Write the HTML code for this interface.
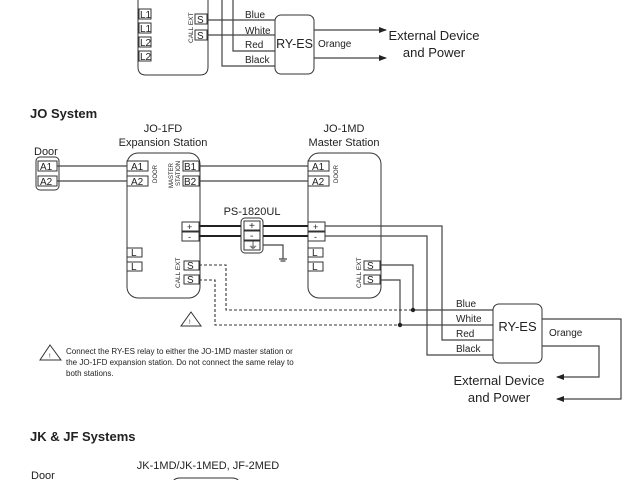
<!DOCTYPE html>
<html><head><meta charset="utf-8"><style>
body{margin:0;background:#fff}
svg{display:block}
text{font-family:"Liberation Sans",sans-serif;fill:#222}
.t{font-size:10px}
.b{fill:#fff;stroke:#333;stroke-width:1}
.w{stroke:#444;stroke-width:1.2;fill:none}
.d{stroke:#333;stroke-width:1.1;fill:none;stroke-dasharray:3,2}
</style></head><body>
<svg width="640" height="480" viewBox="0 0 640 480">
<defs><marker id="ar" markerWidth="8" markerHeight="6" refX="7" refY="3" orient="auto" markerUnits="userSpaceOnUse"><path d="M0,0 L8,3 L0,6z" fill="#222"/></marker></defs>
<!-- top section -->
<path d="M138,-2 V67 Q138,75 146,75 H200 Q208,75 208,67 V-2" class="b"/>
<g class="t">
<rect x="139" y="9" width="12" height="10" class="b"/><text x="140" y="18">L1</text>
<rect x="139" y="23" width="12" height="10" class="b"/><text x="140" y="32">L1</text>
<rect x="139" y="37" width="12" height="10" class="b"/><text x="140" y="46">L2</text>
<rect x="139" y="51" width="12" height="10" class="b"/><text x="140" y="60">L2</text>
<rect x="195" y="14" width="12" height="10" class="b"/><text x="197" y="23">S</text>
<rect x="195" y="30" width="12" height="10" class="b"/><text x="197" y="39">S</text>
</g>
<text x="0" y="0" font-size="6.5" transform="translate(193,43) rotate(-90)">CALL EXT</text>
<path d="M207,20 H275 M207,35 H275 M275,51 H233 V-2 M275,66 H222 V-2" class="w"/>
<g class="t"><text x="245" y="18">Blue</text><text x="245" y="34">White</text><text x="245" y="48">Red</text><text x="245" y="63">Black</text><text x="318" y="47">Orange</text></g>
<rect x="275" y="15" width="39" height="59" rx="6" class="b"/>
<text x="294.5" y="48" font-size="12.5" text-anchor="middle">RY-ES</text>
<path d="M314,30 H386" class="w" marker-end="url(#ar)"/>
<path d="M314,58 H386" class="w" marker-end="url(#ar)"/>
<text x="434" y="40" font-size="13" text-anchor="middle">External Device</text>
<text x="434" y="57" font-size="13" text-anchor="middle">and Power</text>

<!-- JO system -->
<text x="30" y="118" font-size="13" font-weight="bold">JO System</text>
<text x="163" y="132" font-size="11" text-anchor="middle">JO-1FD</text>
<text x="163" y="146" font-size="11" text-anchor="middle">Expansion Station</text>
<text x="344" y="132" font-size="11" text-anchor="middle">JO-1MD</text>
<text x="344" y="146" font-size="11" text-anchor="middle">Master Station</text>
<text x="34" y="155" font-size="11">Door</text>
<rect x="36" y="157" width="23" height="33" rx="4" class="b"/>
<rect x="127" y="153" width="73" height="145" rx="11" class="b"/>
<rect x="308" y="153" width="73" height="145" rx="11" class="b"/>
<g class="t">
<rect x="38" y="161" width="19" height="10" class="b"/><text x="40" y="170">A1</text>
<rect x="38" y="176" width="19" height="10" class="b"/><text x="40" y="185">A2</text>
<rect x="127" y="161" width="21" height="10" class="b"/><text x="131" y="170">A1</text>
<rect x="127" y="176" width="21" height="10" class="b"/><text x="131" y="185">A2</text>
<rect x="183" y="161" width="16" height="10" class="b"/><text x="184" y="170">B1</text>
<rect x="183" y="176" width="16" height="10" class="b"/><text x="184" y="185">B2</text>
<rect x="308" y="161" width="21" height="10" class="b"/><text x="312" y="170">A1</text>
<rect x="308" y="176" width="21" height="10" class="b"/><text x="312" y="185">A2</text>
<rect x="182" y="222" width="17" height="9" class="b"/><text x="187" y="230" font-size="9">+</text>
<rect x="182" y="232" width="17" height="9" class="b"/><text x="188" y="240" font-size="9">-</text>
<rect x="308" y="222" width="17" height="9" class="b"/><text x="313" y="230" font-size="9">+</text>
<rect x="308" y="232" width="17" height="9" class="b"/><text x="314" y="240" font-size="9">-</text>
<rect x="127" y="248" width="15" height="9" class="b"/><text x="131" y="256">L</text>
<rect x="127" y="262" width="15" height="9" class="b"/><text x="131" y="270">L</text>
<rect x="308" y="248" width="15" height="9" class="b"/><text x="312" y="256">L</text>
<rect x="308" y="262" width="15" height="9" class="b"/><text x="312" y="270">L</text>
<rect x="184" y="261" width="15" height="9" class="b"/><text x="187" y="269">S</text>
<rect x="184" y="275" width="15" height="9" class="b"/><text x="187" y="283">S</text>
<rect x="364" y="261" width="16" height="9" class="b"/><text x="367" y="269">S</text>
<rect x="364" y="275" width="16" height="9" class="b"/><text x="367" y="283">S</text>
</g>
<g font-size="6">
<text transform="translate(157,183) rotate(-90)">DOOR</text>
<text transform="translate(338,183) rotate(-90)">DOOR</text>
<text transform="translate(173,188) rotate(-90)">MASTER</text>
<text transform="translate(180,186) rotate(-90)">STATION</text>
<text transform="translate(180,288) rotate(-90)" font-size="6.5">CALL EXT</text>
<text transform="translate(361,288) rotate(-90)" font-size="6.5">CALL EXT</text>
</g>
<path d="M57,166 H127 M57,181 H127 M199,166 H308 M199,181 H308" class="w"/>
<path d="M199,226 H308 M199,236 H308" stroke="#222" stroke-width="2" fill="none"/>
<text x="252" y="215" font-size="11" text-anchor="middle">PS-1820UL</text>
<rect x="241" y="218" width="22" height="35" rx="4" class="b" stroke-width="1.5"/>
<g class="t" font-size="9">
<rect x="244" y="221" width="16" height="9" class="b"/><text x="249" y="229">+</text>
<rect x="244" y="231" width="16" height="9" class="b"/><text x="250" y="239">-</text>
<rect x="244" y="241" width="16" height="9" class="b"/><text x="248" y="249">⏚</text>
</g>
<path d="M263,245 H283 V259 M279,259 H287 M280.5,261 H285.5" class="w"/>
<path d="M325,226 H442 V340 H493 M325,236 H427 V355 H493" class="w"/>
<path d="M380,265 H413 V310 M380,280 H400 V325 M413,310 H493 M400,325 H493" class="w"/>
<path d="M199,265 H226 V310 H413 M199,280 H215 V325 H400" class="d"/>
<circle cx="413" cy="310" r="2.2" fill="#222"/><circle cx="400" cy="325" r="2.2" fill="#222"/>
<g class="t"><text x="456" y="307">Blue</text><text x="456" y="322">White</text><text x="456" y="337">Red</text><text x="456" y="352">Black</text><text x="549" y="336">Orange</text></g>
<rect x="493" y="304" width="49" height="59" rx="6" class="b"/>
<text x="517.5" y="331" font-size="13" text-anchor="middle">RY-ES</text>
<path d="M542,319 H621 V399 H557" class="w" marker-end="url(#ar)"/>
<path d="M542,346 H599 V377 H557" class="w" marker-end="url(#ar)"/>
<text x="499" y="385" font-size="13" text-anchor="middle">External Device</text>
<text x="499" y="402" font-size="13" text-anchor="middle">and Power</text>
<path d="M191,312 L201,326 H181 Z" fill="none" stroke="#333"/><text x="189" y="324" font-size="6">!</text>
<path d="M50,345 L61,360 H40 Z" fill="none" stroke="#333"/><text x="49" y="358" font-size="6">!</text>
<g font-size="8"><text x="66" y="354">Connect the RY-ES relay to either the JO-1MD master station or</text>
<text x="66" y="365">the JO-1FD expansion station. Do not connect the same relay to</text>
<text x="66" y="376">both stations.</text></g>

<text x="30" y="441" font-size="13" font-weight="bold">JK &amp; JF Systems</text>
<text x="208" y="469" font-size="11" text-anchor="middle">JK-1MD/JK-1MED, JF-2MED</text>
<text x="31" y="479" font-size="11">Door</text>
<path d="M172,484 V486 Q172,478 180,478 H232 Q240,478 240,486" class="b"/>
</svg>
</body></html>
